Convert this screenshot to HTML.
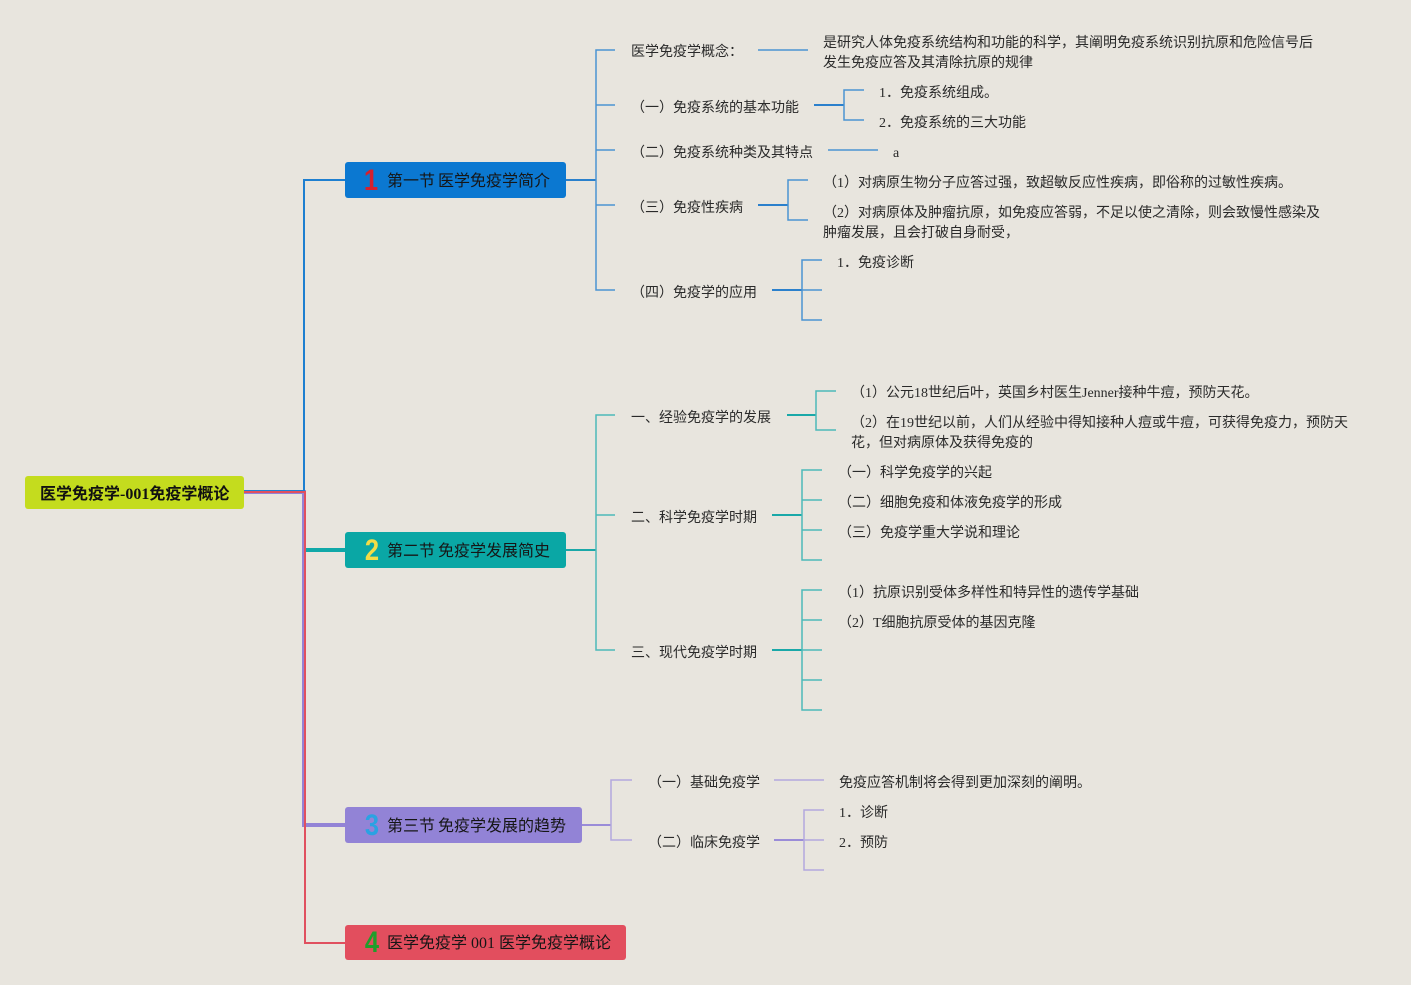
<!DOCTYPE html>
<html><head><meta charset="utf-8">
<style>
html,body{margin:0;padding:0;}
body{width:1411px;height:985px;background:#e8e5de;position:relative;overflow:hidden;
font-family:"Liberation Serif","Noto Sans CJK SC",sans-serif;}
.t{position:absolute;font-size:14px;line-height:20px;white-space:nowrap;color:#2a2a2a;margin-top:3px;}
.node{position:absolute;border-radius:3px;}
.nt{position:absolute;font-size:16px;line-height:22px;white-space:nowrap;color:#161616;margin-top:2px;}
.gap{display:inline-block;width:3px;}
.num{position:absolute;font-family:"Liberation Sans",sans-serif;font-weight:bold;font-size:30px;line-height:30px;transform:scaleX(0.85);transform-origin:center;}
svg{position:absolute;left:0;top:0;}
</style></head><body>
<svg width="1411" height="985" viewBox="0 0 1411 985" fill="none">
  <!-- trunk -->
  <path d="M244,492 H304 V825 H345" stroke="#9383d6" stroke-width="4"/>
  <path d="M304,550 H345" stroke="#10a8a8" stroke-width="4"/>
  <path d="M244,491 H304 V180 H345" stroke="#1e7fd0" stroke-width="2"/>
  <path d="M244,492 H305 V943 H345" stroke="#e0505f" stroke-width="2"/>

  <!-- branch 1 -->
  <g stroke="#4a93d2" stroke-width="1.5">
    <path d="M566,180 H596" stroke="#2a80cc" stroke-width="2"/>
    <path d="M615,50 H596 V290 H615"/>
    <path d="M596,105 H615 M596,150 H615 M596,205 H615"/>
    <path d="M758,50 H808"/>
    <path d="M814,105 H844" stroke="#2b80cc" stroke-width="2"/>
    <path d="M864,90 H844 V120 H864"/>
    <path d="M828,150 H878"/>
    <path d="M758,205 H788" stroke="#2b80cc" stroke-width="2"/>
    <path d="M808,180 H788 V220 H808"/>
    <path d="M772,290 H802" stroke="#2b80cc" stroke-width="2"/>
    <path d="M822,260 H802 V320 H822 M802,290 H822"/>
  </g>

  <!-- branch 2 -->
  <g stroke="#4cb9b9" stroke-width="1.5">
    <path d="M566,550 H596" stroke="#1aa8a8" stroke-width="2"/>
    <path d="M615,415 H596 V650 H615 M596,515 H615"/>
    <path d="M787,415 H816" stroke="#1aa8a8" stroke-width="2"/>
    <path d="M836,391 H816 V430 H836"/>
    <path d="M772,515 H802" stroke="#1aa8a8" stroke-width="2"/>
    <path d="M822,470 H802 V560 H822 M802,500 H822 M802,530 H822"/>
    <path d="M772,650 H802" stroke="#1aa8a8" stroke-width="2"/>
    <path d="M822,590 H802 V710 H822 M802,620 H822 M802,650 H822 M802,680 H822"/>
  </g>

  <!-- branch 3 -->
  <g stroke="#b2a8de" stroke-width="1.5">
    <path d="M582,825 H611" stroke="#9a8cd8" stroke-width="2"/>
    <path d="M632,780 H611 V840 H632"/>
    <path d="M774,780 H824"/>
    <path d="M774,840 H804" stroke="#9a8cd8" stroke-width="2"/>
    <path d="M824,810 H804 V870 H824 M804,840 H824"/>
  </g>
</svg>

<!-- root -->
<div class="node" style="left:25px;top:476px;width:219px;height:33px;background:#c4dc1e;"></div>
<div class="nt" style="left:40px;top:482px;font-weight:bold;color:#111;">医学免疫学-001免疫学概论</div>

<!-- node 1 -->
<div class="node" style="left:345px;top:162px;width:221px;height:36px;background:#0b78d1;"></div>
<div class="num" style="left:362px;top:166px;width:18px;text-align:center;color:#d6202e;">1</div>
<div class="nt" style="left:387px;top:169px;">第一节<span class="gap"></span>医学免疫学简介</div>

<!-- node 2 -->
<div class="node" style="left:345px;top:532px;width:221px;height:36px;background:#0aa7a5;"></div>
<div class="num" style="left:363px;top:536px;width:18px;text-align:center;color:#f2dc46;">2</div>
<div class="nt" style="left:387px;top:539px;">第二节<span class="gap"></span>免疫学发展简史</div>

<!-- node 3 -->
<div class="node" style="left:345px;top:807px;width:237px;height:36px;background:#9283d6;"></div>
<div class="num" style="left:363px;top:811px;width:18px;text-align:center;color:#2aa2e2;">3</div>
<div class="nt" style="left:387px;top:814px;">第三节<span class="gap"></span>免疫学发展的趋势</div>

<!-- node 4 -->
<div class="node" style="left:345px;top:925px;width:281px;height:35px;background:#e24e5e;"></div>
<div class="num" style="left:363px;top:928px;width:18px;text-align:center;color:#1f9e2a;">4</div>
<div class="nt" style="left:387px;top:931px;">医学免疫学 001 医学免疫学概论</div>

<!-- branch 1 texts -->
<div class="t" style="left:631px;top:40px;">医学免疫学概念：</div>
<div class="t" style="left:823px;top:31px;">是研究人体免疫系统结构和功能的科学，其阐明免疫系统识别抗原和危险信号后<br>发生免疫应答及其清除抗原的规律</div>
<div class="t" style="left:631px;top:96px;">（一）免疫系统的基本功能</div>
<div class="t" style="left:879px;top:81px;">1．免疫系统组成。</div>
<div class="t" style="left:879px;top:111px;">2．免疫系统的三大功能</div>
<div class="t" style="left:631px;top:141px;">（二）免疫系统种类及其特点</div>
<div class="t" style="left:893px;top:141px;">a</div>
<div class="t" style="left:631px;top:196px;">（三）免疫性疾病</div>
<div class="t" style="left:823px;top:171px;">（1）对病原生物分子应答过强，致超敏反应性疾病，即俗称的过敏性疾病。</div>
<div class="t" style="left:823px;top:201px;">（2）对病原体及肿瘤抗原，如免疫应答弱，不足以使之清除，则会致慢性感染及<br>肿瘤发展，且会打破自身耐受，</div>
<div class="t" style="left:631px;top:281px;">（四）免疫学的应用</div>
<div class="t" style="left:837px;top:251px;">1．免疫诊断</div>

<!-- branch 2 texts -->
<div class="t" style="left:631px;top:406px;">一、经验免疫学的发展</div>
<div class="t" style="left:851px;top:381px;">（1）公元18世纪后叶，英国乡村医生Jenner接种牛痘，预防天花。</div>
<div class="t" style="left:851px;top:411px;">（2）在19世纪以前，人们从经验中得知接种人痘或牛痘，可获得免疫力，预防天<br>花，但对病原体及获得免疫的</div>
<div class="t" style="left:631px;top:506px;">二、科学免疫学时期</div>
<div class="t" style="left:838px;top:461px;">（一）科学免疫学的兴起</div>
<div class="t" style="left:838px;top:491px;">（二）细胞免疫和体液免疫学的形成</div>
<div class="t" style="left:838px;top:521px;">（三）免疫学重大学说和理论</div>
<div class="t" style="left:631px;top:641px;">三、现代免疫学时期</div>
<div class="t" style="left:838px;top:581px;">（1）抗原识别受体多样性和特异性的遗传学基础</div>
<div class="t" style="left:838px;top:611px;">（2）T细胞抗原受体的基因克隆</div>

<!-- branch 3 texts -->
<div class="t" style="left:648px;top:771px;">（一）基础免疫学</div>
<div class="t" style="left:839px;top:771px;">免疫应答机制将会得到更加深刻的阐明。</div>
<div class="t" style="left:648px;top:831px;">（二）临床免疫学</div>
<div class="t" style="left:839px;top:801px;">1．诊断</div>
<div class="t" style="left:839px;top:831px;">2．预防</div>
</body></html>
